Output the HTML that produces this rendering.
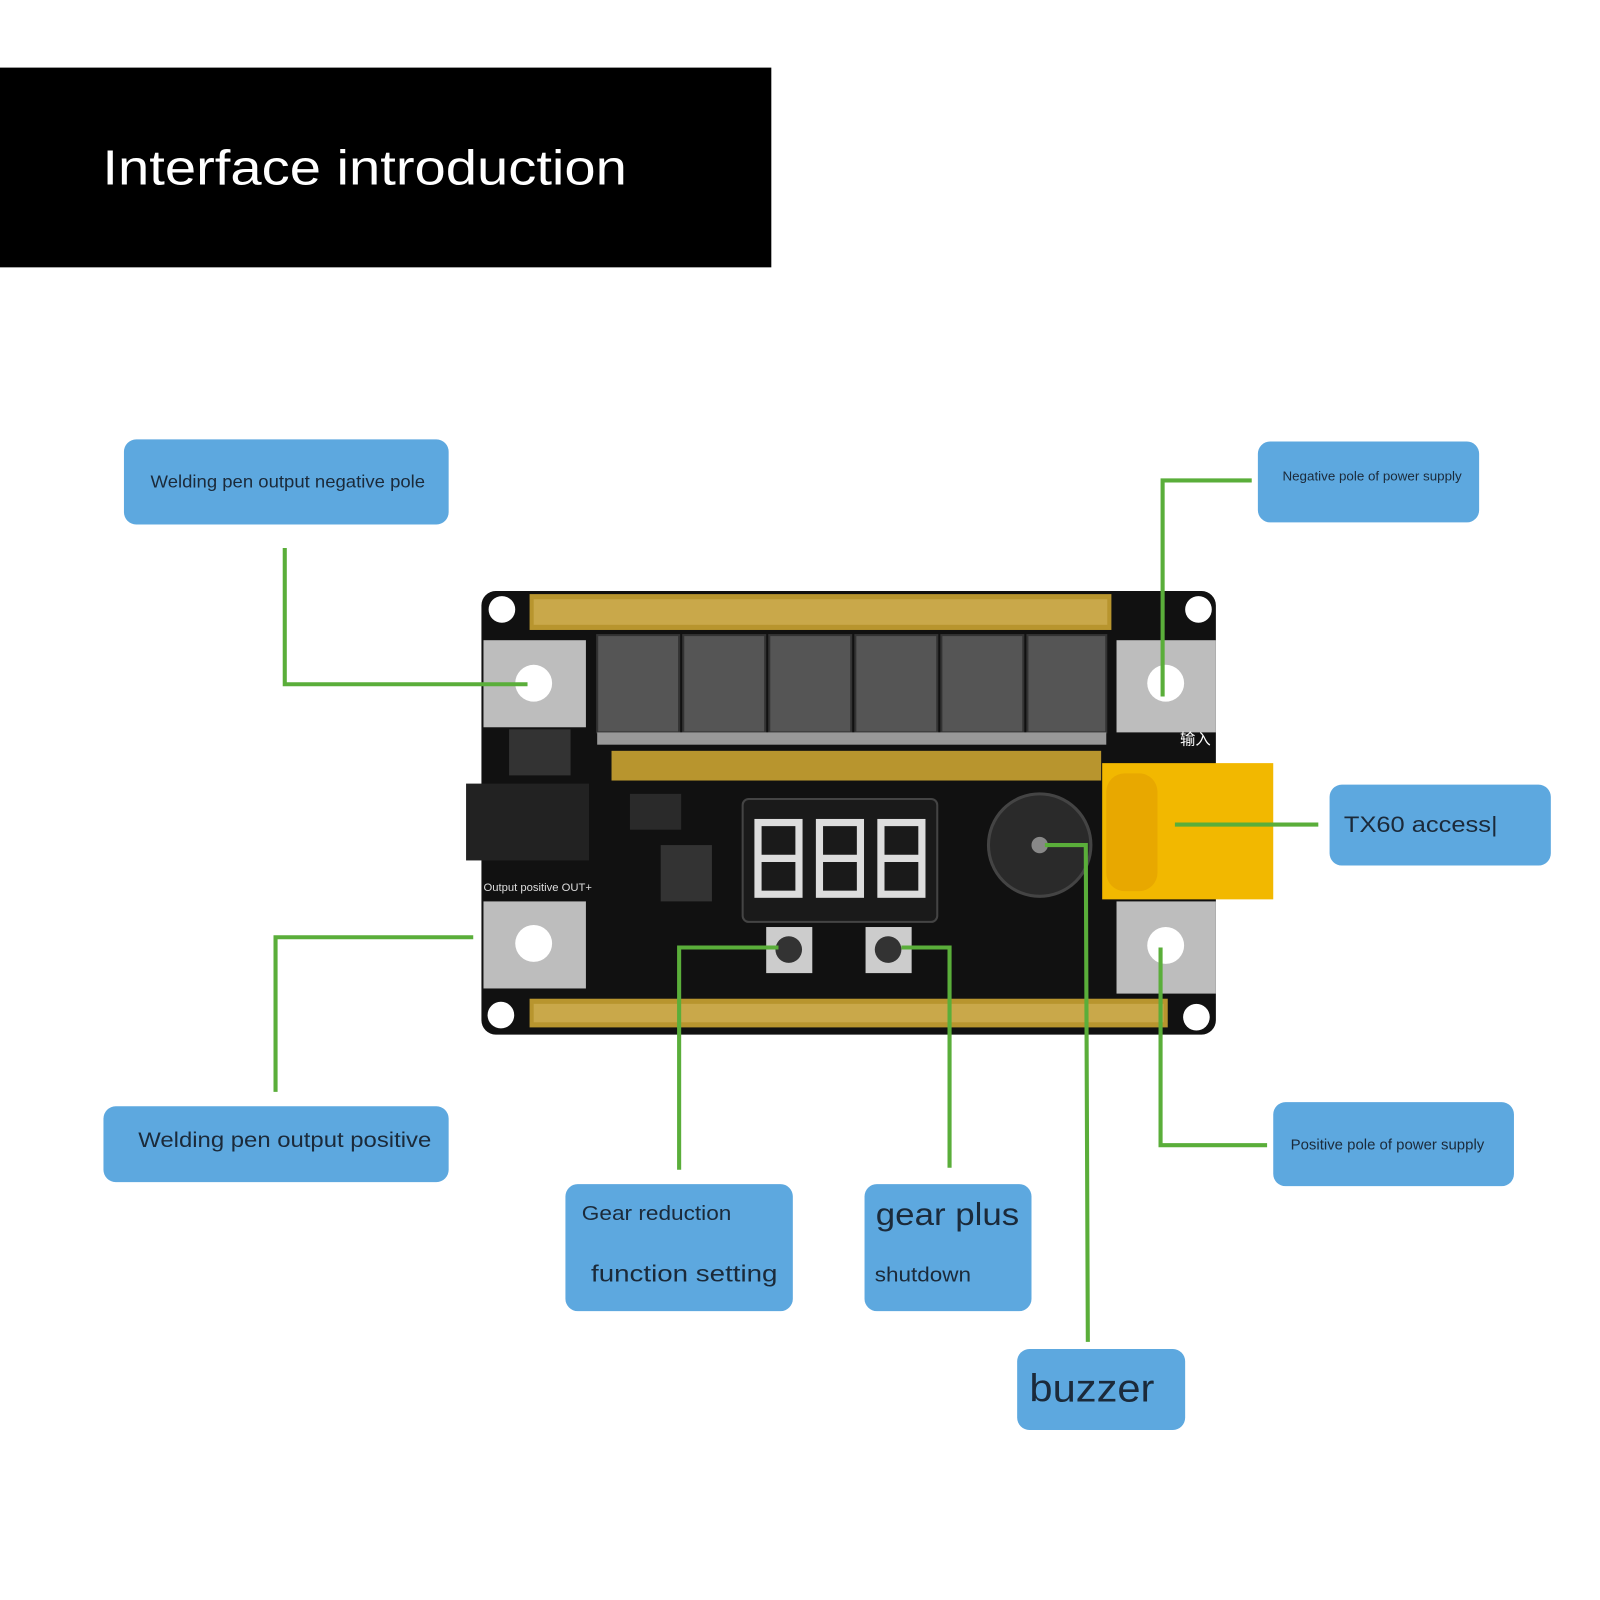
<!DOCTYPE html>
<html><head><meta charset="utf-8"><style>
html,body{margin:0;padding:0;background:#fff;}
svg{display:block;}
text{font-family:"Liberation Sans","DejaVu Sans",sans-serif;}
</style></head><body>
<svg width="1600" height="1600" viewBox="0 0 1562 1562" xmlns="http://www.w3.org/2000/svg">
<rect width="1562" height="1562" fill="#fff"/>
<rect x="0" y="66" width="753" height="195" fill="#000"/>
<text x="100" y="180" font-size="48" fill="#fff" textLength="512" lengthAdjust="spacingAndGlyphs">Interface introduction</text>

<!-- board -->
<rect x="470" y="577" width="717" height="433" rx="14" fill="#111"/>
<rect x="517" y="580" width="568" height="35" fill="#b8952e"/>
<rect x="521" y="585" width="560" height="25" fill="#c9a84a"/>
<rect x="597" y="733" width="478" height="29" fill="#b8952e"/>
<rect x="517" y="975" width="623" height="28" fill="#b8952e"/>
<rect x="521" y="980" width="615" height="18" fill="#c9a84a"/>
<g fill="#555" stroke="#333" stroke-width="2">
<rect x="583" y="620" width="80" height="95"/>
<rect x="667" y="620" width="80" height="95"/>
<rect x="751" y="620" width="80" height="95"/>
<rect x="835" y="620" width="80" height="95"/>
<rect x="919" y="620" width="80" height="95"/>
<rect x="1003" y="620" width="77" height="95"/>
</g>
<rect x="583" y="715" width="497" height="12" fill="#999"/>
<g fill="#bdbdbd">
<rect x="472" y="625" width="100" height="85"/>
<rect x="472" y="880" width="100" height="85"/>
<rect x="1090" y="625" width="97" height="90"/>
<rect x="1090" y="880" width="97" height="90"/>
</g>
<g fill="#fff">
<circle cx="521" cy="667" r="18"/>
<circle cx="521" cy="921" r="18"/>
<circle cx="1138" cy="667" r="18"/>
<circle cx="1138" cy="923" r="18"/>
<circle cx="490" cy="595" r="13"/>
<circle cx="1170" cy="595" r="13"/>
<circle cx="489" cy="991" r="13"/>
<circle cx="1168" cy="993" r="13"/>
</g>
<rect x="455" y="765" width="120" height="75" fill="#222"/>
<rect x="497" y="712" width="60" height="45" fill="#333"/>
<rect x="725" y="780" width="190" height="120" rx="6" fill="#1a1a1a" stroke="#444" stroke-width="2"/>
<g fill="none" stroke="#ddd" stroke-width="7">
<rect x="740" y="803" width="40" height="70"/>
<line x1="740" y1="838" x2="780" y2="838"/>
<rect x="800" y="803" width="40" height="70"/>
<line x1="800" y1="838" x2="840" y2="838"/>
<rect x="860" y="803" width="40" height="70"/>
<line x1="860" y1="838" x2="900" y2="838"/>
</g>
<rect x="645" y="825" width="50" height="55" fill="#333"/>
<rect x="615" y="775" width="50" height="35" fill="#2a2a2a"/>
<circle cx="1015" cy="825" r="50" fill="#2a2a2a" stroke="#444" stroke-width="3"/>
<circle cx="1015" cy="825" r="8" fill="#888"/>
<rect x="748" y="905" width="45" height="45" fill="#ccc"/>
<circle cx="770" cy="927" r="13" fill="#333"/>
<rect x="845" y="905" width="45" height="45" fill="#ccc"/>
<circle cx="867" cy="927" r="13" fill="#333"/>
<rect x="1076" y="745" width="167" height="133" fill="#f2b800"/>
<rect x="1080" y="755" width="50" height="115" rx="18" fill="#e8a800"/>
<text x="472" y="870" font-size="11" fill="#ddd">Output positive OUT+</text>
<text x="1152" y="727" font-size="15" fill="#fff">输入</text>

<!-- connectors -->
<g fill="none" stroke="#5aae3a" stroke-width="4">
<polyline points="278,535 278,668 515,668"/>
<polyline points="1222,469 1135,469 1135,680"/>
<polyline points="1287,805 1147,805"/>
<polyline points="1020,825 1060,825 1062,1310"/>
<polyline points="1237,1118 1133,1118 1133,925"/>
<polyline points="462,915 269,915 269,1066"/>
<polyline points="760,925 663,925 663,1142"/>
<polyline points="880,925 927,925 927,1140"/>
</g>

<!-- boxes -->
<g fill="#5da8df">
<rect x="121" y="429" width="317" height="83" rx="12"/>
<rect x="1228" y="431" width="216" height="79" rx="12"/>
<rect x="1298" y="766" width="216" height="79" rx="12"/>
<rect x="1243" y="1076" width="235" height="82" rx="12"/>
<rect x="101" y="1080" width="337" height="74" rx="12"/>
<rect x="552" y="1156" width="222" height="124" rx="12"/>
<rect x="844" y="1156" width="163" height="124" rx="12"/>
<rect x="993" y="1317" width="164" height="79" rx="12"/>
</g>
<g fill="#1b2a3a" lengthAdjust="spacingAndGlyphs">
<text x="147" y="476" font-size="17" textLength="268" lengthAdjust="spacingAndGlyphs">Welding pen output negative pole</text>
<text x="1252" y="469" font-size="12.5" textLength="175" lengthAdjust="spacingAndGlyphs">Negative pole of power supply</text>
<text x="1312" y="812" font-size="22" textLength="150" lengthAdjust="spacingAndGlyphs">TX60 access|</text>
<text x="1260" y="1122" font-size="14" textLength="189" lengthAdjust="spacingAndGlyphs">Positive pole of power supply</text>
<text x="135" y="1120" font-size="21" textLength="286" lengthAdjust="spacingAndGlyphs">Welding pen output positive</text>
<text x="568" y="1191" font-size="20" textLength="146" lengthAdjust="spacingAndGlyphs">Gear reduction</text>
<text x="577" y="1251" font-size="23" textLength="182" lengthAdjust="spacingAndGlyphs">function setting</text>
<text x="855" y="1196" font-size="31" textLength="140" lengthAdjust="spacingAndGlyphs">gear plus</text>
<text x="854" y="1251" font-size="20" textLength="94" lengthAdjust="spacingAndGlyphs">shutdown</text>
<text x="1005" y="1368" font-size="38" textLength="122" lengthAdjust="spacingAndGlyphs">buzzer</text>
</g>
</svg>
</body></html>
